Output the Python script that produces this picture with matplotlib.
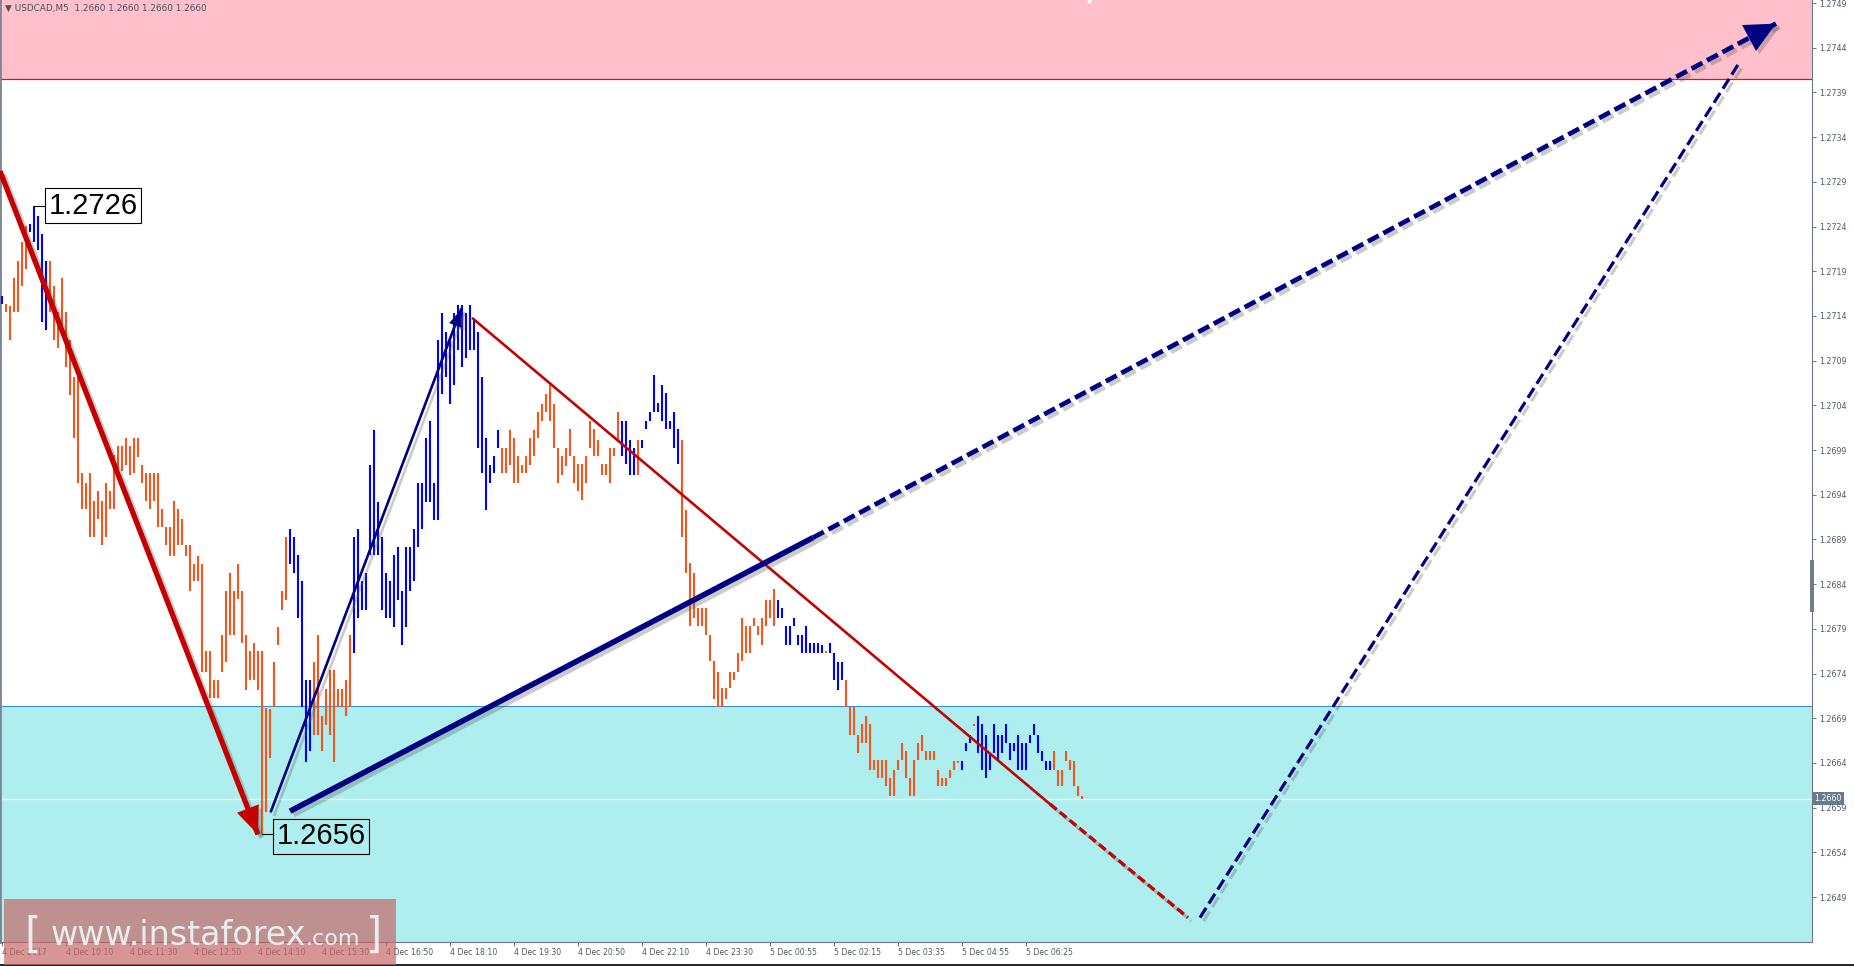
import numpy as np
import matplotlib
matplotlib.use("Agg")
import matplotlib.pyplot as plt
from matplotlib import patheffects as pe
from matplotlib.patches import Rectangle
from matplotlib.lines import Line2D

# ---- USDCAD M5 bars (high / low) ----
highs = [
    1.27162, 1.27153, 1.27151, 1.27182, 1.27202, 1.27223, 1.27241, 1.27243, 1.27263, 1.27252,
    1.27232, 1.27202, 1.27202, 1.27173, 1.27144, 1.27182, 1.27144, 1.27113, 1.27072, 1.27072,
    1.26964, 1.26953, 1.26964, 1.26933, 1.26944, 1.26933, 1.26953, 1.26944, 1.26985, 1.26994,
    1.26994, 1.27003, 1.26994, 1.27003, 1.27003, 1.26973, 1.26964, 1.26964, 1.26964, 1.26964,
    1.26924, 1.26904, 1.26904, 1.26933, 1.26924, 1.26913, 1.26884, 1.26884, 1.26863, 1.26872,
    1.26863, 1.26765, 1.26765, 1.26733, 1.26733, 1.26783, 1.26832, 1.26852, 1.26832, 1.26863,
    1.26832, 1.26783, 1.26765, 1.26774, 1.26765, 1.26765, 1.26702, 1.26700, 1.26753, 1.26792,
    1.26832, 1.26893, 1.26902, 1.26893, 1.26873, 1.26843, 1.26733, 1.26733, 1.26753, 1.26783,
    1.26692, 1.26723, 1.26744, 1.26744, 1.26723, 1.26723, 1.26733, 1.26783, 1.26893, 1.26902,
    1.26843, 1.26852, 1.26973, 1.27012, 1.26932, 1.26893, 1.26852, 1.26843, 1.26873, 1.26882,
    1.26832, 1.26882, 1.26882, 1.26902, 1.26953, 1.26953, 1.27003, 1.27022, 1.26953, 1.27113,
    1.27143, 1.27122, 1.27113, 1.27143, 1.27152, 1.27152, 1.27143, 1.27152, 1.27137, 1.27122,
    1.27072, 1.27003, 1.26973, 1.26983, 1.27012, 1.26992, 1.26992, 1.27012, 1.27003, 1.26983,
    1.26973, 1.26983, 1.27003, 1.27012, 1.27033, 1.27042, 1.27053, 1.27063, 1.27042, 1.26992,
    1.26983, 1.26992, 1.27013, 1.26983, 1.26974, 1.26974, 1.26983, 1.27022, 1.27013, 1.27001,
    1.26974, 1.26974, 1.26992, 1.26992, 1.27033, 1.27022, 1.27022, 1.27001, 1.26992, 1.27001,
    1.27001, 1.27022, 1.27033, 1.27074, 1.27043, 1.27063, 1.27054, 1.27022, 1.27033, 1.27013,
    1.27001, 1.26923, 1.26864, 1.26852, 1.26813, 1.26813, 1.26813, 1.26783, 1.26754, 1.26742,
    1.26724, 1.26724, 1.26742, 1.26742, 1.26763, 1.26802, 1.26793, 1.26793, 1.26802, 1.26793,
    1.26802, 1.26822, 1.26822, 1.26834, 1.26822, 1.26813, 1.26793, 1.26793, 1.26802, 1.26783,
    1.26783, 1.26793, 1.26774, 1.26774, 1.26774, 1.26772, 1.26765, 1.26774, 1.26763, 1.26753,
    1.26753, 1.26733, 1.26703, 1.26703, 1.26671, 1.26683, 1.26692, 1.26683, 1.26643, 1.26643,
    1.26643, 1.26643, 1.26623, 1.26632, 1.26643, 1.26662, 1.26653, 1.26623, 1.26643, 1.26662,
    1.26671, 1.26653, 1.26653, 1.26653, 1.26632, 1.26623, 1.26623, 1.26632, 1.26642, 1.26642,
    1.26642, 1.26662, 1.26671, 1.26683, 1.26692, 1.26683, 1.26671, 1.26651, 1.26683, 1.26671,
    1.26671, 1.26683, 1.26662, 1.26662, 1.26671, 1.26662, 1.26662, 1.26671, 1.26683, 1.26671,
    1.26653, 1.26642, 1.26642, 1.26653, 1.26632, 1.26632, 1.26653, 1.26643, 1.26642, 1.26614,
    1.26603,
]
lows = [
    1.27153, 1.27144, 1.27113, 1.27144, 1.27144, 1.27173, 1.27193, 1.27234, 1.27223, 1.27214,
    1.27133, 1.27124, 1.27144, 1.27113, 1.27104, 1.27124, 1.27083, 1.27052, 1.27003, 1.26953,
    1.26924, 1.26924, 1.26893, 1.26893, 1.26913, 1.26884, 1.26893, 1.26924, 1.26924, 1.26962,
    1.26967, 1.26973, 1.26962, 1.26964, 1.26982, 1.26953, 1.26933, 1.26924, 1.26933, 1.26904,
    1.26904, 1.26884, 1.26872, 1.26872, 1.26884, 1.26884, 1.26872, 1.26832, 1.26843, 1.26843,
    1.26742, 1.26742, 1.26713, 1.26713, 1.26713, 1.26742, 1.26753, 1.26783, 1.26783, 1.26823,
    1.26774, 1.26722, 1.26733, 1.26733, 1.26722, 1.26560, 1.26585, 1.26645, 1.26703, 1.26772,
    1.26811, 1.26822, 1.26863, 1.26852, 1.26802, 1.26703, 1.26641, 1.26653, 1.26671, 1.26671,
    1.26653, 1.26682, 1.26671, 1.26641, 1.26703, 1.26703, 1.26692, 1.26703, 1.26763, 1.26802,
    1.26811, 1.26811, 1.26873, 1.26873, 1.26873, 1.26811, 1.26802, 1.26802, 1.26792, 1.26822,
    1.26772, 1.26792, 1.26832, 1.26843, 1.26882, 1.26902, 1.26932, 1.26932, 1.26912, 1.26912,
    1.27053, 1.27072, 1.27042, 1.27063, 1.27102, 1.27083, 1.27093, 1.27102, 1.27102, 1.26992,
    1.26964, 1.26923, 1.26953, 1.26964, 1.26992, 1.26964, 1.26964, 1.26973, 1.26953, 1.26953,
    1.26964, 1.26964, 1.26973, 1.26983, 1.27003, 1.27022, 1.27033, 1.27022, 1.26992, 1.26953,
    1.26962, 1.26972, 1.26983, 1.26953, 1.26944, 1.26934, 1.26953, 1.26992, 1.26983, 1.26983,
    1.26962, 1.26962, 1.26953, 1.26983, 1.27001, 1.26983, 1.26974, 1.26962, 1.26962, 1.26962,
    1.26992, 1.27013, 1.27022, 1.27033, 1.27033, 1.27022, 1.27013, 1.27013, 1.26992, 1.26974,
    1.26893, 1.26852, 1.26793, 1.26802, 1.26793, 1.26793, 1.26783, 1.26754, 1.26712, 1.26703,
    1.26703, 1.26712, 1.26724, 1.26733, 1.26742, 1.26754, 1.26763, 1.26763, 1.26793, 1.26783,
    1.26772, 1.26793, 1.26802, 1.26793, 1.26802, 1.26802, 1.26772, 1.26772, 1.26793, 1.26772,
    1.26763, 1.26763, 1.26763, 1.26763, 1.26763, 1.26763, 1.26763, 1.26763, 1.26733, 1.26722,
    1.26733, 1.26703, 1.26671, 1.26671, 1.26651, 1.26662, 1.26662, 1.26632, 1.26632, 1.26623,
    1.26623, 1.26614, 1.26603, 1.26603, 1.26632, 1.26643, 1.26623, 1.26603, 1.26603, 1.26643,
    1.26653, 1.26643, 1.26643, 1.26643, 1.26614, 1.26614, 1.26614, 1.26623, 1.26632, 1.26640,
    1.26632, 1.26653, 1.26662, 1.26681, 1.26651, 1.26632, 1.26623, 1.26632, 1.26651, 1.26643,
    1.26651, 1.26662, 1.26643, 1.26653, 1.26632, 1.26632, 1.26632, 1.26662, 1.26671, 1.26651,
    1.26642, 1.26632, 1.26632, 1.26632, 1.26614, 1.26614, 1.26642, 1.26632, 1.26614, 1.26603,
    1.26600,
]
# 1 = rising bar (blue), 0 = falling bar (orange)
up = [
    1, 0, 0, 0, 0, 0, 0, 1, 1, 1, 1, 1, 0, 0, 0, 0, 0, 0, 0, 0, 0, 0, 0, 0, 0, 0, 0, 0, 0, 0,
    0, 0, 0, 0, 0, 0, 0, 0, 0, 0, 0, 0, 0, 0, 0, 0, 0, 0, 0, 0, 0, 0, 0, 0, 0, 0, 0, 0, 0, 0,
    0, 0, 0, 0, 0, 0, 0, 0, 0, 0, 0, 0, 1, 1, 1, 1, 1, 1, 0, 0, 0, 0, 0, 0, 0, 0, 0, 0, 1, 1,
    1, 1, 1, 1, 1, 1, 1, 1, 1, 1, 1, 1, 1, 1, 1, 1, 1, 1, 1, 1, 1, 1, 1, 1, 1, 1, 1, 1, 1, 1,
    1, 1, 1, 1, 1, 0, 0, 0, 0, 0, 0, 0, 0, 0, 0, 0, 0, 0, 0, 0, 0, 0, 0, 0, 0, 0, 0, 0, 0, 0,
    0, 0, 0, 0, 0, 1, 1, 1, 1, 0, 1, 1, 1, 1, 1, 1, 1, 1, 1, 1, 0, 0, 0, 0, 0, 0, 0, 0, 0, 0,
    0, 0, 0, 0, 0, 0, 0, 0, 0, 0, 0, 0, 0, 0, 1, 1, 1, 1, 1, 1, 1, 1, 1, 1, 1, 1, 0, 1, 1, 1,
    1, 0, 0, 0, 0, 0, 0, 0, 0, 0, 0, 0, 0, 0, 0, 0, 0, 0, 0, 0, 0, 0, 0, 0, 0, 0, 0, 0, 0, 0,
    1, 1, 1, 0, 1, 1, 1, 1, 1, 1, 1, 1, 1, 1, 1, 1, 1, 1, 1, 1, 1, 1, 1, 0, 0, 0, 0, 0, 0, 0,
    0,
]

time_labels = ["4 Dec 2017", "4 Dec 10:10", "4 Dec 11:30", "4 Dec 12:50", "4 Dec 14:10",
               "4 Dec 15:30", "4 Dec 16:50", "4 Dec 18:10", "4 Dec 19:30", "4 Dec 20:50",
               "4 Dec 22:10", "4 Dec 23:30", "5 Dec 00:55", "5 Dec 02:15", "5 Dec 03:35",
               "5 Dec 04:55", "5 Dec 06:25"]
label_step = 16  # one time label every 16 bars

resistance_zone = (1.27405, 1.2760)
support_zone = (1.2630, 1.26704)
last_price = 1.2660

# wave markup, (bar index, price)
wave_red = [(-0.5, 1.27302), (64.0, 1.26560)]
wave_blue_up = [(67.25, 1.26586), (114.75, 1.27147)]
wave_red_down = [(117.75, 1.27137), (262.0, 1.26594), (296.5, 1.26467)]
wave_blue_big = [(72.0, 1.26586), (202.75, 1.26892), (443.5, 1.27467)]
wave_blue_last = [(299.5, 1.26467), (434.0, 1.27421)]

W, H = 1854, 966
fig = plt.figure(figsize=(W / 100, H / 100), dpi=100)
fig.patch.set_facecolor("white")
ax = fig.add_axes([0, 24 / H, 1812 / W, 942 / H])
ax.set_facecolor("white")
ax.set_xlim(-0.5, 452.5)
ax.set_ylim(1.264397, 1.274934)

# zones
ax.axhspan(*resistance_zone, color="#ffc0cb", lw=0, zorder=0)
ax.axhline(resistance_zone[0], color="#d41818", lw=0.9, zorder=1)
ax.axhspan(*support_zone, color="#afeeee", lw=0, zorder=0)
ax.axhline(support_zone[1], color="#3b8fd6", lw=0.8, zorder=1)
ax.axhline(last_price, color="white", lw=0.9, zorder=1)

# bars
x = np.arange(len(highs))
cols = ["#0000ff" if u else "#f4561e" for u in up]
ax.vlines(x, lows, highs, colors=cols, lw=1.5, zorder=3)

shadow = [pe.SimpleLineShadow(offset=(2.5, -2.5), shadow_color="#555555", alpha=0.3), pe.Normal()]
pshadow = [pe.SimplePatchShadow(offset=(2.5, -2.5), shadow_rgbFace="#555555", alpha=0.3), pe.Normal()]


def head(p0, p1, color, ms, hl, hw):
    ax.annotate("", xy=p1, xytext=p0, zorder=6,
                arrowprops=dict(arrowstyle=f"-|>,head_length={hl},head_width={hw}",
                                color=color, lw=0, mutation_scale=ms,
                                shrinkA=0, shrinkB=0, path_effects=pshadow))


red = "#c40000"
navy = "#000080"

# red impulse down
xs, ys = zip(*wave_red)
ax.plot(xs, ys, color=red, lw=3.8, solid_capstyle="butt", path_effects=shadow, zorder=5)
head(wave_red[0], wave_red[1], red, 20, 1.0, 0.42)

# thin blue up
xs, ys = zip(*wave_blue_up)
ax.plot(xs, ys, color=navy, lw=1.9, path_effects=shadow, zorder=5)
head(wave_blue_up[0], wave_blue_up[1], navy, 12, 1.0, 0.38)

# red correction line
xs, ys = zip(*wave_red_down[:2])
ax.plot(xs, ys, color=red, lw=1.8, path_effects=shadow, zorder=5)
xs, ys = zip(*wave_red_down[1:])
ax.plot(xs, ys, color=red, lw=2.4, ls=(0, (2.6, 1.2)), path_effects=shadow, zorder=5)

# big blue wave
xs, ys = zip(*wave_blue_big[:2])
ax.plot(xs, ys, color=navy, lw=4.0, solid_capstyle="butt", path_effects=shadow, zorder=5)
xs, ys = zip(*wave_blue_big[1:])
ax.plot(xs, ys, color=navy, lw=3.4, ls=(0, (2.6, 1.1)), path_effects=shadow, zorder=5)
head(wave_blue_big[1], wave_blue_big[2], navy, 22, 1.0, 0.48)

# last blue projection
xs, ys = zip(*wave_blue_last)
ax.plot(xs, ys, color=navy, lw=2.3, ls=(0, (3.6, 1.6)), path_effects=shadow, zorder=5)

# high / low labels
hi = int(np.argmax(highs))
lo = int(np.argmin(lows))
box = dict(boxstyle="square,pad=0.12", lw=0.8, ec="black")
ax.plot([hi, hi + 2.6], [highs[hi], highs[hi]], color="black", lw=0.8, zorder=6)
ax.text(hi + 3.7, highs[hi], f"{highs[hi]:.4f}", fontsize=21, family="Liberation Sans",
        ha="left", va="center", bbox=dict(fc="white", **box), zorder=7)
ax.plot([lo, lo + 2.6], [lows[lo], lows[lo]], color="black", lw=0.8, zorder=6)
ax.text(lo + 3.7, lows[lo] - 0.00002, f"{lows[lo]:.4f}", fontsize=21, family="Liberation Sans",
        ha="left", va="center", bbox=dict(fc="none", **box), zorder=7)

# header
ax.text(0.003, 0.996, "\u25bc USDCAD,M5  1.2660 1.2660 1.2660 1.2660", transform=ax.transAxes,
        fontsize=6.4, color="#4a505c", ha="left", va="top", zorder=8)
ax.plot([len(highs) + 0.8], [ax.get_ylim()[1]], marker="v", color="white", ms=4,
        clip_on=False, zorder=8)

# axes cosmetics
axis_col = "#6b7785"
lab_col = "#4f5966"
ax.spines["top"].set_visible(False)
ax.spines["left"].set_color("#7b8794")
ax.spines["left"].set_linewidth(2)
ax.spines["right"].set_color(axis_col)
ax.spines["bottom"].set_color(axis_col)

yt = [1.2649 + 0.0005 * k for k in range(21)]
ax.yaxis.tick_right()
ax.set_yticks(yt)
ax.set_yticklabels([f"{v:.4f}" for v in yt])
ax.tick_params(axis="y", length=3, width=0.7, color=axis_col, labelsize=5.7,
               labelcolor=lab_col, pad=2)

xt = np.arange(len(time_labels)) * label_step
ax.set_xticks(xt)
ax.set_xticklabels(time_labels)
for t in ax.get_xticklabels():
    t.set_ha("left")
ax.tick_params(axis="x", length=3, width=0.7, color=axis_col, labelsize=5.6,
               labelcolor=lab_col, pad=1.5)

ax.text(1.0012, last_price, f"{last_price:.4f}", transform=ax.get_yaxis_transform(),
        fontsize=5.7, color="white", ha="left", va="center", zorder=9,
        bbox=dict(boxstyle="square,pad=0.25", fc="#6b7a8a", ec="none"), clip_on=False)

# scroll marker on the price scale
fig.add_artist(Rectangle((1810 / W, 1 - 612 / H), 4 / W, 52 / H, transform=fig.transFigure,
                         fc="#6f7c89", ec="none", zorder=5))

# watermark
fig.add_artist(Rectangle((4 / W, 1 / H), 392 / W, 66 / H, transform=fig.transFigure,
                         fc=(199 / 255, 105 / 255, 105 / 255), ec="none", alpha=0.7, zorder=10))
wm = dict(transform=fig.transFigure, color="#eef6f6", va="baseline", zorder=11, alpha=0.92)
base = 1 - 945 / H
fig.text(24 / W, base - 0.003, "[", fontsize=30, **wm)
fig.text(51 / W, base, "www.instaforex", fontsize=24, **wm)
fig.text(306 / W, base, ".com", fontsize=16, **wm)
fig.text(366 / W, base - 0.003, "]", fontsize=30, **wm)

fig.add_artist(Line2D([0, 1], [0.6 / H, 0.6 / H], transform=fig.transFigure, color="black", lw=1.2))

fig.savefig("out.png", dpi=100)
